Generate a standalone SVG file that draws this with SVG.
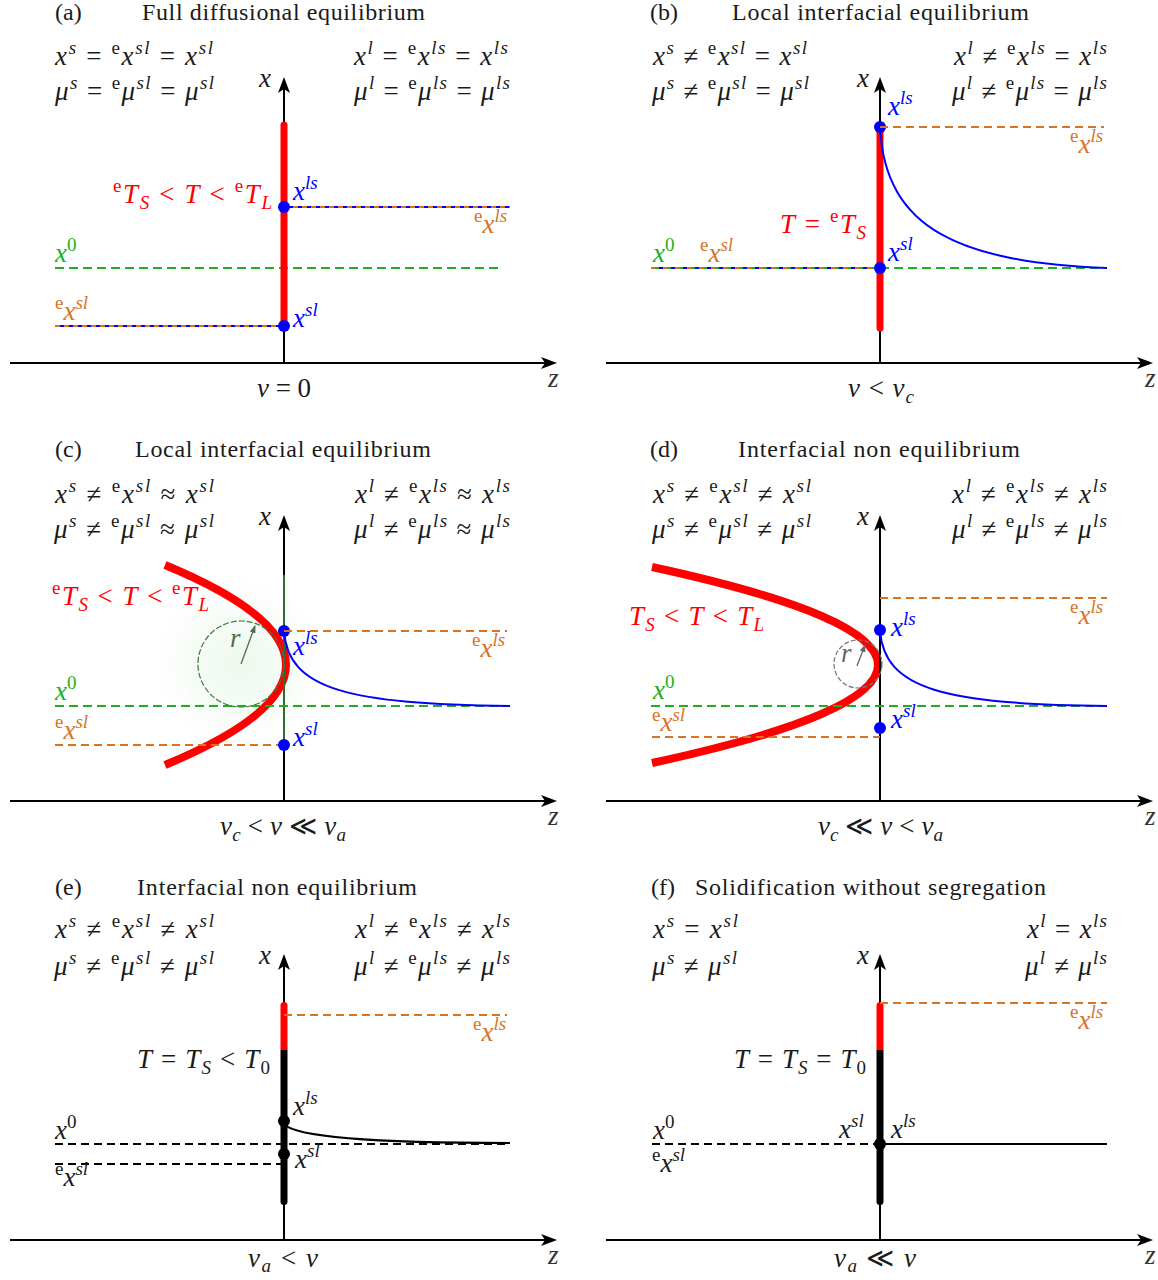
<svg xmlns="http://www.w3.org/2000/svg" width="1158" height="1280" viewBox="0 0 1158 1280" font-family="Liberation Serif, serif">
<defs>
<style>
text{font-family:"Liberation Serif","Times New Roman","DejaVu Serif",serif;fill:#1a1a1a}
.t{font-size:24px}
.m{font-size:27px}
.s{font-size:19px}
.i{font-style:italic}
.ax{stroke:#000;stroke-width:2;fill:none}
.blue{fill:#0000ff}
.org{fill:#d9731f}
.grn{fill:#1cb01c}
.red{fill:#ff0000}
.zl{fill:#333}
.dg{stroke:#1cb01c;stroke-width:2;stroke-dasharray:9 5;fill:none}
.do{stroke:#d9731f;stroke-width:2;stroke-dasharray:8 5;fill:none}
.dob{stroke:#d9731f;stroke-width:2;stroke-dasharray:5 4;fill:none}
.dk{stroke:#000;stroke-width:2;stroke-dasharray:8 5;fill:none}
.bl{stroke:#0000ff;stroke-width:2;fill:none}
.rb{stroke:#ff0000;stroke-width:7;stroke-linecap:round;fill:none}
.par{stroke:#ff0000;stroke-width:8;fill:none}
</style>
<marker id="ah" viewBox="0 0 16 12" refX="8" refY="6" markerWidth="16" markerHeight="12" markerUnits="userSpaceOnUse" orient="auto"><path d="M0,0 L16,6 L0,12 L4,6 Z" fill="#000"/></marker>
<marker id="ahg" viewBox="0 0 8 6" refX="7" refY="3" markerWidth="8" markerHeight="6" markerUnits="userSpaceOnUse" orient="auto"><path d="M0,0 L8,3 L0,6 Z" fill="#4f6f4f"/></marker>
<marker id="ahy" viewBox="0 0 8 6" refX="7" refY="3" markerWidth="8" markerHeight="6" markerUnits="userSpaceOnUse" orient="auto"><path d="M0,0 L8,3 L0,6 Z" fill="#666"/></marker>
<radialGradient id="glow" cx="241" cy="664" r="95" gradientUnits="userSpaceOnUse">
<stop offset="0" stop-color="#eef8ee" stop-opacity="1"/>
<stop offset="0.55" stop-color="#f3faf3" stop-opacity="0.7"/>
<stop offset="1" stop-color="#ffffff" stop-opacity="0"/>
</radialGradient>
</defs>
<rect width="1158" height="1280" fill="#fff"/>

<!-- Panel (a) -->
<g id="panel-a">
<text class="t" x="55" y="20">(a)</text>
<text class="t" x="142" y="20" textLength="283">Full diffusional equilibrium</text>
<text class="m" x="55" y="65" textLength="158"><tspan class="i">x</tspan><tspan class="s i" dy="-11">s</tspan><tspan dy="11"> = </tspan><tspan class="s" dy="-11">e</tspan><tspan class="i" dy="11">x</tspan><tspan class="s i" dy="-11">sl</tspan><tspan dy="11"> = </tspan><tspan class="i">x</tspan><tspan class="s i" dy="-11">sl</tspan></text>
<text class="m" x="55" y="100" textLength="159"><tspan class="i">μ</tspan><tspan class="s i" dy="-11">s</tspan><tspan dy="11"> = </tspan><tspan class="s" dy="-11">e</tspan><tspan class="i" dy="11">μ</tspan><tspan class="s i" dy="-11">sl</tspan><tspan dy="11"> = </tspan><tspan class="i">μ</tspan><tspan class="s i" dy="-11">sl</tspan></text>
<text class="m" x="354" y="65" textLength="154"><tspan class="i">x</tspan><tspan class="s i" dy="-11">l</tspan><tspan dy="11"> = </tspan><tspan class="s" dy="-11">e</tspan><tspan class="i" dy="11">x</tspan><tspan class="s i" dy="-11">ls</tspan><tspan dy="11"> = </tspan><tspan class="i">x</tspan><tspan class="s i" dy="-11">ls</tspan></text>
<text class="m" x="354" y="100" textLength="156"><tspan class="i">μ</tspan><tspan class="s i" dy="-11">l</tspan><tspan dy="11"> = </tspan><tspan class="s" dy="-11">e</tspan><tspan class="i" dy="11">μ</tspan><tspan class="s i" dy="-11">ls</tspan><tspan dy="11"> = </tspan><tspan class="i">μ</tspan><tspan class="s i" dy="-11">ls</tspan></text>
<line class="ax" x1="10" y1="363" x2="549" y2="363" marker-end="url(#ah)"/>
<line class="ax" x1="284" y1="363" x2="284" y2="85" marker-end="url(#ah)"/>
<text class="m i" x="259" y="87">x</text>
<text class="m i zl" x="548" y="387">z</text>
<line class="dg" x1="55" y1="268" x2="502" y2="268"/>
<line class="rb" x1="284" y1="125" x2="284" y2="326"/>
<line class="bl" x1="284" y1="207" x2="510" y2="207"/>
<line class="dob" x1="284" y1="207" x2="510" y2="207"/>
<line class="bl" x1="55" y1="326" x2="284" y2="326"/>
<line class="dob" x1="55" y1="326" x2="284" y2="326"/>
<circle cx="284" cy="207" r="6" fill="#0000ff"/>
<circle cx="284" cy="326" r="6" fill="#0000ff"/>
<text class="m red" x="113" y="203" textLength="159"><tspan class="s" dy="-11">e</tspan><tspan class="i" dy="11">T</tspan><tspan class="s i" dy="6">S</tspan><tspan dy="-6"> &lt; </tspan><tspan class="i">T</tspan><tspan> &lt; </tspan><tspan class="s" dy="-11">e</tspan><tspan class="i" dy="11">T</tspan><tspan class="s i" dy="6">L</tspan></text>
<text class="m blue" x="293" y="200"><tspan class="i">x</tspan><tspan class="s i" dy="-11">ls</tspan></text>
<text class="m blue" x="293" y="327"><tspan class="i">x</tspan><tspan class="s i" dy="-11">sl</tspan></text>
<text class="m org" x="474" y="233"><tspan class="s" dy="-11">e</tspan><tspan class="i" dy="11">x</tspan><tspan class="s i" dy="-11">ls</tspan></text>
<text class="m grn" x="55" y="262"><tspan class="i">x</tspan><tspan class="s" dy="-11">0</tspan></text>
<text class="m org" x="55" y="320"><tspan class="s" dy="-11">e</tspan><tspan class="i" dy="11">x</tspan><tspan class="s i" dy="-11">sl</tspan></text>
<text class="m" x="257" y="397" textLength="54"><tspan class="i">v</tspan> = 0</text>
</g>

<!-- Panel (b) -->
<g id="panel-b">
<text class="t" x="650" y="20">(b)</text>
<text class="t" x="732" y="20" textLength="297">Local interfacial equilibrium</text>
<text class="m" x="653" y="65" textLength="154"><tspan class="i">x</tspan><tspan class="s i" dy="-11">s</tspan><tspan dy="11"> ≠ </tspan><tspan class="s" dy="-11">e</tspan><tspan class="i" dy="11">x</tspan><tspan class="s i" dy="-11">sl</tspan><tspan dy="11"> = </tspan><tspan class="i">x</tspan><tspan class="s i" dy="-11">sl</tspan></text>
<text class="m" x="652" y="100" textLength="157"><tspan class="i">μ</tspan><tspan class="s i" dy="-11">s</tspan><tspan dy="11"> ≠ </tspan><tspan class="s" dy="-11">e</tspan><tspan class="i" dy="11">μ</tspan><tspan class="s i" dy="-11">sl</tspan><tspan dy="11"> = </tspan><tspan class="i">μ</tspan><tspan class="s i" dy="-11">sl</tspan></text>
<text class="m" x="954" y="65" textLength="153"><tspan class="i">x</tspan><tspan class="s i" dy="-11">l</tspan><tspan dy="11"> ≠ </tspan><tspan class="s" dy="-11">e</tspan><tspan class="i" dy="11">x</tspan><tspan class="s i" dy="-11">ls</tspan><tspan dy="11"> = </tspan><tspan class="i">x</tspan><tspan class="s i" dy="-11">ls</tspan></text>
<text class="m" x="952" y="100" textLength="155"><tspan class="i">μ</tspan><tspan class="s i" dy="-11">l</tspan><tspan dy="11"> ≠ </tspan><tspan class="s" dy="-11">e</tspan><tspan class="i" dy="11">μ</tspan><tspan class="s i" dy="-11">ls</tspan><tspan dy="11"> = </tspan><tspan class="i">μ</tspan><tspan class="s i" dy="-11">ls</tspan></text>
<line class="ax" x1="606" y1="363" x2="1145" y2="363" marker-end="url(#ah)"/>
<line class="ax" x1="880" y1="363" x2="880" y2="85" marker-end="url(#ah)"/>
<text class="m i" x="857" y="87">x</text>
<text class="m i zl" x="1145" y="387">z</text>
<line class="rb" x1="880" y1="127" x2="880" y2="328"/>
<line class="bl" x1="651" y1="268" x2="880" y2="268"/>
<line x1="651" y1="268" x2="880" y2="268" stroke="#d9731f" stroke-width="2" stroke-dasharray="4 8"/>
<line x1="651" y1="268" x2="880" y2="268" stroke="#1cb01c" stroke-width="2" stroke-dasharray="4 8" stroke-dashoffset="-4"/>
<line class="dg" x1="880" y1="268" x2="1107" y2="268"/>
<path class="bl" d="M880,127 C885,230 961,262 1107,268"/>
<circle cx="880" cy="127" r="6" fill="#0000ff"/>
<circle cx="880" cy="268" r="6" fill="#0000ff"/>
<line class="do" x1="880" y1="127" x2="1104" y2="127"/>
<text class="m red" x="780" y="233" textLength="86"><tspan class="i">T</tspan> = <tspan class="s" dy="-11">e</tspan><tspan class="i" dy="11">T</tspan><tspan class="s i" dy="6">S</tspan></text>
<text class="m blue" x="888" y="115"><tspan class="i">x</tspan><tspan class="s i" dy="-11">ls</tspan></text>
<text class="m org" x="1070" y="153"><tspan class="s" dy="-11">e</tspan><tspan class="i" dy="11">x</tspan><tspan class="s i" dy="-11">ls</tspan></text>
<text class="m grn" x="653" y="262"><tspan class="i">x</tspan><tspan class="s" dy="-11">0</tspan></text>
<text class="m org" x="700" y="262"><tspan class="s" dy="-11">e</tspan><tspan class="i" dy="11">x</tspan><tspan class="s i" dy="-11">sl</tspan></text>
<text class="m blue" x="888" y="261"><tspan class="i">x</tspan><tspan class="s i" dy="-11">sl</tspan></text>
<text class="m" x="848" y="397" textLength="66"><tspan class="i">v</tspan> &lt; <tspan class="i">v</tspan><tspan class="s i" dy="6">c</tspan></text>
</g>

<!-- Panel (c) -->
<g id="panel-c">
<text class="t" x="55" y="457">(c)</text>
<text class="t" x="135" y="457" textLength="296">Local interfacial equilibrium</text>
<text class="m" x="55" y="503" textLength="159"><tspan class="i">x</tspan><tspan class="s i" dy="-11">s</tspan><tspan dy="11"> ≠ </tspan><tspan class="s" dy="-11">e</tspan><tspan class="i" dy="11">x</tspan><tspan class="s i" dy="-11">sl</tspan><tspan dy="11"> ≈ </tspan><tspan class="i">x</tspan><tspan class="s i" dy="-11">sl</tspan></text>
<text class="m" x="54" y="538" textLength="160"><tspan class="i">μ</tspan><tspan class="s i" dy="-11">s</tspan><tspan dy="11"> ≠ </tspan><tspan class="s" dy="-11">e</tspan><tspan class="i" dy="11">μ</tspan><tspan class="s i" dy="-11">sl</tspan><tspan dy="11"> ≈ </tspan><tspan class="i">μ</tspan><tspan class="s i" dy="-11">sl</tspan></text>
<text class="m" x="355" y="503" textLength="155"><tspan class="i">x</tspan><tspan class="s i" dy="-11">l</tspan><tspan dy="11"> ≠ </tspan><tspan class="s" dy="-11">e</tspan><tspan class="i" dy="11">x</tspan><tspan class="s i" dy="-11">ls</tspan><tspan dy="11"> ≈ </tspan><tspan class="i">x</tspan><tspan class="s i" dy="-11">ls</tspan></text>
<text class="m" x="354" y="538" textLength="156"><tspan class="i">μ</tspan><tspan class="s i" dy="-11">l</tspan><tspan dy="11"> ≠ </tspan><tspan class="s" dy="-11">e</tspan><tspan class="i" dy="11">μ</tspan><tspan class="s i" dy="-11">ls</tspan><tspan dy="11"> ≈ </tspan><tspan class="i">μ</tspan><tspan class="s i" dy="-11">ls</tspan></text>
<circle cx="241" cy="664" r="95" fill="url(#glow)"/>
<line class="ax" x1="10" y1="801" x2="549" y2="801" marker-end="url(#ah)"/>
<path class="par" d="M165,565 Q407,665 165,765"/>
<line class="ax" x1="284" y1="801" x2="284" y2="523" marker-end="url(#ah)"/>
<line x1="284" y1="575" x2="284" y2="745" stroke="#2e6b2e" stroke-width="2"/>
<text class="m i" x="259" y="525">x</text>
<text class="m i zl" x="548" y="825">z</text>
<circle cx="241" cy="664" r="43" fill="none" stroke="#3f7a3f" stroke-width="1.2" stroke-dasharray="6 2"/>
<line x1="241" y1="664" x2="255" y2="626" stroke="#4f6f4f" stroke-width="1.3" marker-end="url(#ahg)"/>
<text class="m i" x="230" y="647" style="fill:#4f6f4f">r</text>
<line class="dg" x1="55" y1="706" x2="510" y2="706"/>
<line class="do" x1="55" y1="745" x2="284" y2="745"/>
<path class="bl" d="M284,631 C288,690 350,704 510,706"/>
<circle cx="284" cy="631" r="6" fill="#0000ff"/>
<circle cx="284" cy="745" r="6" fill="#0000ff"/>
<line class="do" x1="284" y1="631" x2="507" y2="631"/>
<text class="m red" x="52" y="605" textLength="157"><tspan class="s" dy="-11">e</tspan><tspan class="i" dy="11">T</tspan><tspan class="s i" dy="6">S</tspan><tspan dy="-6"> &lt; </tspan><tspan class="i">T</tspan><tspan> &lt; </tspan><tspan class="s" dy="-11">e</tspan><tspan class="i" dy="11">T</tspan><tspan class="s i" dy="6">L</tspan></text>
<text class="m blue" x="293" y="655"><tspan class="i">x</tspan><tspan class="s i" dy="-11">ls</tspan></text>
<text class="m org" x="472" y="657"><tspan class="s" dy="-11">e</tspan><tspan class="i" dy="11">x</tspan><tspan class="s i" dy="-11">ls</tspan></text>
<text class="m grn" x="55" y="700"><tspan class="i">x</tspan><tspan class="s" dy="-11">0</tspan></text>
<text class="m org" x="55" y="739"><tspan class="s" dy="-11">e</tspan><tspan class="i" dy="11">x</tspan><tspan class="s i" dy="-11">sl</tspan></text>
<text class="m blue" x="293" y="746"><tspan class="i">x</tspan><tspan class="s i" dy="-11">sl</tspan></text>
<text class="m" x="220" y="835" textLength="126"><tspan class="i">v</tspan><tspan class="s i" dy="6">c</tspan><tspan dy="-6"> &lt; </tspan><tspan class="i">v</tspan> ≪ <tspan class="i">v</tspan><tspan class="s i" dy="6">a</tspan></text>
</g>

<!-- Panel (d) -->
<g id="panel-d">
<text class="t" x="650" y="457">(d)</text>
<text class="t" x="738" y="457" textLength="282">Interfacial non equilibrium</text>
<text class="m" x="653" y="503" textLength="158"><tspan class="i">x</tspan><tspan class="s i" dy="-11">s</tspan><tspan dy="11"> ≠ </tspan><tspan class="s" dy="-11">e</tspan><tspan class="i" dy="11">x</tspan><tspan class="s i" dy="-11">sl</tspan><tspan dy="11"> ≠ </tspan><tspan class="i">x</tspan><tspan class="s i" dy="-11">sl</tspan></text>
<text class="m" x="652" y="538" textLength="159"><tspan class="i">μ</tspan><tspan class="s i" dy="-11">s</tspan><tspan dy="11"> ≠ </tspan><tspan class="s" dy="-11">e</tspan><tspan class="i" dy="11">μ</tspan><tspan class="s i" dy="-11">sl</tspan><tspan dy="11"> ≠ </tspan><tspan class="i">μ</tspan><tspan class="s i" dy="-11">sl</tspan></text>
<text class="m" x="952" y="503" textLength="155"><tspan class="i">x</tspan><tspan class="s i" dy="-11">l</tspan><tspan dy="11"> ≠ </tspan><tspan class="s" dy="-11">e</tspan><tspan class="i" dy="11">x</tspan><tspan class="s i" dy="-11">ls</tspan><tspan dy="11"> ≠ </tspan><tspan class="i">x</tspan><tspan class="s i" dy="-11">ls</tspan></text>
<text class="m" x="952" y="538" textLength="155"><tspan class="i">μ</tspan><tspan class="s i" dy="-11">l</tspan><tspan dy="11"> ≠ </tspan><tspan class="s" dy="-11">e</tspan><tspan class="i" dy="11">μ</tspan><tspan class="s i" dy="-11">ls</tspan><tspan dy="11"> ≠ </tspan><tspan class="i">μ</tspan><tspan class="s i" dy="-11">ls</tspan></text>
<line class="ax" x1="606" y1="801" x2="1145" y2="801" marker-end="url(#ah)"/>
<path class="par" d="M652,567 Q1104,665 652,763"/>
<line class="ax" x1="880" y1="801" x2="880" y2="523" marker-end="url(#ah)"/>
<text class="m i" x="857" y="525">x</text>
<text class="m i zl" x="1145" y="825">z</text>
<circle cx="858" cy="664" r="24" fill="none" stroke="#777" stroke-width="1.2" stroke-dasharray="5 2"/>
<line x1="857" y1="666" x2="865" y2="645" stroke="#666" stroke-width="1.3" marker-end="url(#ahy)"/>
<text class="m i" x="841" y="662" style="fill:#666">r</text>
<line class="do" x1="880" y1="598" x2="1107" y2="598"/>
<line class="dg" x1="651" y1="706" x2="1107" y2="706"/>
<line class="do" x1="652" y1="737" x2="880" y2="737"/>
<path class="bl" d="M880,630 C884,690 945,704 1107,706"/>
<circle cx="880" cy="630" r="6" fill="#0000ff"/>
<circle cx="880" cy="728" r="6" fill="#0000ff"/>
<text class="m red" x="629" y="625" textLength="135"><tspan class="i">T</tspan><tspan class="s i" dy="6">S</tspan><tspan dy="-6"> &lt; </tspan><tspan class="i">T</tspan> &lt; <tspan class="i">T</tspan><tspan class="s i" dy="6">L</tspan></text>
<text class="m org" x="1070" y="624"><tspan class="s" dy="-11">e</tspan><tspan class="i" dy="11">x</tspan><tspan class="s i" dy="-11">ls</tspan></text>
<text class="m blue" x="891" y="636"><tspan class="i">x</tspan><tspan class="s i" dy="-11">ls</tspan></text>
<text class="m grn" x="653" y="699"><tspan class="i">x</tspan><tspan class="s" dy="-11">0</tspan></text>
<text class="m org" x="652" y="731"><tspan class="s" dy="-10">e</tspan><tspan class="i" dy="10">x</tspan><tspan class="s i" dy="-10">sl</tspan></text>
<text class="m blue" x="891" y="728"><tspan class="i">x</tspan><tspan class="s i" dy="-11">sl</tspan></text>
<text class="m" x="818" y="835" textLength="125"><tspan class="i">v</tspan><tspan class="s i" dy="6">c</tspan><tspan dy="-6"> ≪ </tspan><tspan class="i">v</tspan> &lt; <tspan class="i">v</tspan><tspan class="s i" dy="6">a</tspan></text>
</g>

<!-- Panel (e) -->
<g id="panel-e">
<text class="t" x="55" y="895">(e)</text>
<text class="t" x="137" y="895" textLength="280">Interfacial non equilibrium</text>
<text class="m" x="55" y="938" textLength="159"><tspan class="i">x</tspan><tspan class="s i" dy="-11">s</tspan><tspan dy="11"> ≠ </tspan><tspan class="s" dy="-11">e</tspan><tspan class="i" dy="11">x</tspan><tspan class="s i" dy="-11">sl</tspan><tspan dy="11"> ≠ </tspan><tspan class="i">x</tspan><tspan class="s i" dy="-11">sl</tspan></text>
<text class="m" x="54" y="975" textLength="160"><tspan class="i">μ</tspan><tspan class="s i" dy="-11">s</tspan><tspan dy="11"> ≠ </tspan><tspan class="s" dy="-11">e</tspan><tspan class="i" dy="11">μ</tspan><tspan class="s i" dy="-11">sl</tspan><tspan dy="11"> ≠ </tspan><tspan class="i">μ</tspan><tspan class="s i" dy="-11">sl</tspan></text>
<text class="m" x="355" y="938" textLength="155"><tspan class="i">x</tspan><tspan class="s i" dy="-11">l</tspan><tspan dy="11"> ≠ </tspan><tspan class="s" dy="-11">e</tspan><tspan class="i" dy="11">x</tspan><tspan class="s i" dy="-11">ls</tspan><tspan dy="11"> ≠ </tspan><tspan class="i">x</tspan><tspan class="s i" dy="-11">ls</tspan></text>
<text class="m" x="354" y="975" textLength="156"><tspan class="i">μ</tspan><tspan class="s i" dy="-11">l</tspan><tspan dy="11"> ≠ </tspan><tspan class="s" dy="-11">e</tspan><tspan class="i" dy="11">μ</tspan><tspan class="s i" dy="-11">ls</tspan><tspan dy="11"> ≠ </tspan><tspan class="i">μ</tspan><tspan class="s i" dy="-11">ls</tspan></text>
<line class="ax" x1="10" y1="1240" x2="549" y2="1240" marker-end="url(#ah)"/>
<line class="ax" x1="284" y1="1240" x2="284" y2="962" marker-end="url(#ah)"/>
<text class="m i" x="259" y="964">x</text>
<text class="m i zl" x="548" y="1264">z</text>
<path d="M280.5,1050 V1005.5 A3.5,3.5 0 0 1 287.5,1005.5 V1050 Z" fill="#ff0000"/>
<path d="M280.5,1050 V1201.5 A3.5,3.5 0 0 0 287.5,1201.5 V1050 Z" fill="#000"/>
<line class="do" x1="284" y1="1015" x2="507" y2="1015"/>
<line class="dk" x1="55" y1="1144" x2="510" y2="1144"/>
<line class="dk" x1="55" y1="1164" x2="284" y2="1164"/>
<path d="M284,1124 C295,1137 380,1143 510,1143" stroke="#000" stroke-width="2" fill="none"/>
<circle cx="284" cy="1121" r="6" fill="#000"/>
<circle cx="284" cy="1154" r="6" fill="#000"/>
<text class="m" x="137" y="1068" textLength="133"><tspan class="i">T</tspan> = <tspan class="i">T</tspan><tspan class="s i" dy="6">S</tspan><tspan dy="-6"> &lt; </tspan><tspan class="i">T</tspan><tspan class="s" dy="6">0</tspan></text>
<text class="m org" x="473" y="1041"><tspan class="s" dy="-11">e</tspan><tspan class="i" dy="11">x</tspan><tspan class="s i" dy="-11">ls</tspan></text>
<text class="m" x="293" y="1115"><tspan class="i">x</tspan><tspan class="s i" dy="-11">ls</tspan></text>
<text class="m" x="55" y="1139"><tspan class="i">x</tspan><tspan class="s" dy="-11">0</tspan></text>
<text class="m" x="295" y="1168"><tspan class="i">x</tspan><tspan class="s i" dy="-11">sl</tspan></text>
<text class="m" x="55" y="1186"><tspan class="s" dy="-11">e</tspan><tspan class="i" dy="11">x</tspan><tspan class="s i" dy="-11">sl</tspan></text>
<text class="m" x="248" y="1267" textLength="70"><tspan class="i">v</tspan><tspan class="s i" dy="5">a</tspan><tspan dy="-5"> &lt; </tspan><tspan class="i">v</tspan></text>
</g>

<!-- Panel (f) -->
<g id="panel-f">
<text class="t" x="651" y="895">(f)</text>
<text class="t" x="695" y="895" textLength="351">Solidification without segregation</text>
<text class="m" x="653" y="938" textLength="85"><tspan class="i">x</tspan><tspan class="s i" dy="-11">s</tspan><tspan dy="11"> = </tspan><tspan class="i">x</tspan><tspan class="s i" dy="-11">sl</tspan></text>
<text class="m" x="652" y="975" textLength="85"><tspan class="i">μ</tspan><tspan class="s i" dy="-11">s</tspan><tspan dy="11"> ≠ </tspan><tspan class="i">μ</tspan><tspan class="s i" dy="-11">sl</tspan></text>
<text class="m" x="1027" y="938" textLength="80"><tspan class="i">x</tspan><tspan class="s i" dy="-11">l</tspan><tspan dy="11"> = </tspan><tspan class="i">x</tspan><tspan class="s i" dy="-11">ls</tspan></text>
<text class="m" x="1025" y="975" textLength="82"><tspan class="i">μ</tspan><tspan class="s i" dy="-11">l</tspan><tspan dy="11"> ≠ </tspan><tspan class="i">μ</tspan><tspan class="s i" dy="-11">ls</tspan></text>
<line class="ax" x1="606" y1="1240" x2="1145" y2="1240" marker-end="url(#ah)"/>
<line class="ax" x1="880" y1="1240" x2="880" y2="962" marker-end="url(#ah)"/>
<text class="m i" x="857" y="964">x</text>
<text class="m i zl" x="1145" y="1264">z</text>
<path d="M876.5,1050 V1005.5 A3.5,3.5 0 0 1 883.5,1005.5 V1050 Z" fill="#ff0000"/>
<path d="M876.5,1050 V1201.5 A3.5,3.5 0 0 0 883.5,1201.5 V1050 Z" fill="#000"/>
<line class="do" x1="880" y1="1003" x2="1107" y2="1003"/>
<line class="dk" x1="652" y1="1144" x2="880" y2="1144"/>
<line x1="880" y1="1144" x2="1107" y2="1144" stroke="#000" stroke-width="2"/>
<circle cx="880" cy="1144" r="6" fill="#000"/>
<text class="m" x="734" y="1068" textLength="132"><tspan class="i">T</tspan> = <tspan class="i">T</tspan><tspan class="s i" dy="6">S</tspan><tspan dy="-6"> = </tspan><tspan class="i">T</tspan><tspan class="s" dy="6">0</tspan></text>
<text class="m org" x="1070" y="1029"><tspan class="s" dy="-11">e</tspan><tspan class="i" dy="11">x</tspan><tspan class="s i" dy="-11">ls</tspan></text>
<text class="m" x="839" y="1138"><tspan class="i">x</tspan><tspan class="s i" dy="-11">sl</tspan></text>
<text class="m" x="891" y="1138"><tspan class="i">x</tspan><tspan class="s i" dy="-11">ls</tspan></text>
<text class="m" x="653" y="1139"><tspan class="i">x</tspan><tspan class="s" dy="-11">0</tspan></text>
<text class="m" x="652" y="1172"><tspan class="s" dy="-11">e</tspan><tspan class="i" dy="11">x</tspan><tspan class="s i" dy="-11">sl</tspan></text>
<text class="m" x="834" y="1267" textLength="82"><tspan class="i">v</tspan><tspan class="s i" dy="5">a</tspan><tspan dy="-5"> ≪ </tspan><tspan class="i">v</tspan></text>
</g>
</svg>
